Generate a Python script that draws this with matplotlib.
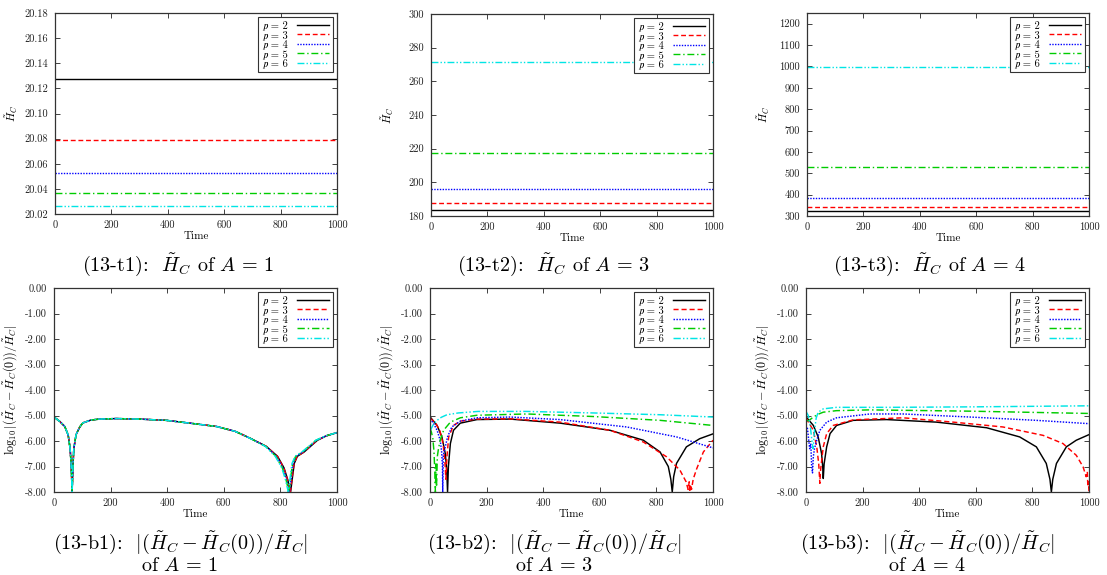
import matplotlib
matplotlib.use("Agg")
import matplotlib.pyplot as plt
from matplotlib.ticker import FixedLocator, FixedFormatter

plt.rcParams['font.family'] = 'serif'
plt.rcParams['font.serif'] = ['cmr10']
plt.rcParams['mathtext.fontset'] = 'cm'
plt.rcParams['axes.unicode_minus'] = False
plt.rcParams['axes.formatter.use_mathtext'] = True

# ---------------- data ----------------
p_labels = ["\U0001D45D = 2", "\U0001D45D = 3", "\U0001D45D = 4", "\U0001D45D = 5",
            "\U0001D45D = 6"]
time_span = [0, 1000]
x_ticks = [0, 200, 400, 600, 800, 1000]

# top row: H_C (constant in time)
t1_HC = [20.1275, 20.0789, 20.0529, 20.0370, 20.0261]
t2_HC = [183.8, 187.5, 196.3, 217.7, 271.2]
t3_HC = [325, 341, 386, 531, 999]

t1_yticks = [20.02, 20.04, 20.06, 20.08, 20.10, 20.12, 20.14, 20.16, 20.18]
t2_yticks = [180, 200, 220, 240, 260, 280, 300]
t3_yticks = [300, 400, 500, 600, 700, 800, 900, 1000, 1100, 1200]
b_yticks = [-8, -7, -6, -5, -4, -3, -2, -1, 0]

# bottom row: log10 relative error
b1_val = [-5.06, -5.23, -5.43, -5.76, -6.3, -7.0, -8.0, -7.0, -6.3, -5.75, -5.45, -5.29,
          -5.18, -5.14, -5.12, -5.14, -5.19, -5.30, -5.43, -5.62, -5.88, -6.21, -6.6,
          -7.06, -7.52, -8.0, -7.39, -6.88, -6.6, -6.43, -5.97, -5.8, -5.67]
b1_time_p2 = [0, 20, 38, 50, 57, 61, 64, 67, 70, 78, 91, 102, 130, 161, 220, 300, 397, 480,
              574, 640, 691, 750, 790, 813, 826, 836, 843, 849, 860, 884, 931, 962, 1000]
b1_time_p3 = [0, 20, 38, 50, 57, 61, 64, 67, 70, 78, 91, 102, 130, 161, 220, 300, 397, 480,
              574, 640, 691, 750, 789, 812, 825, 835, 842, 848, 859, 883, 930, 962, 1000]
b1_time_p4 = [0, 20, 38, 50, 57, 61, 64, 67, 70, 78, 91, 102, 130, 161, 220, 300, 397, 480,
              574, 640, 691, 749, 786, 809, 822, 832, 839, 845, 856, 880, 928, 961, 1000]
b1_time_p5 = [0, 20, 38, 50, 57, 61, 64, 67, 70, 78, 91, 102, 130, 161, 220, 300, 397, 480,
              574, 640, 691, 748, 784, 807, 820, 830, 837, 843, 854, 878, 926, 960, 1000]
b1_time_p6 = [0, 20, 38, 50, 57, 61, 64, 67, 70, 78, 91, 102, 130, 161, 220, 300, 397, 480,
              574, 640, 690, 747, 782, 805, 818, 828, 835, 841, 852, 876, 925, 960, 1000]

b2_p2_t = [0, 25, 42, 54, 59, 62, 65, 72, 83, 107, 166, 283, 460, 636, 754, 813, 842, 851,
           856, 861, 871, 906, 953, 1000]
b2_p2_v = [-5.05, -5.39, -5.84, -6.49, -7.1, -8.0, -7.0, -6.1, -5.58, -5.3, -5.16, -5.14,
           -5.3, -5.58, -5.97, -6.43, -7.0, -7.5, -8.0, -7.4, -6.88, -6.23, -5.91, -5.72]
b2_p3_t = [0, 20, 35, 46, 52, 56, 60, 66, 83, 107, 166, 283, 460, 636, 754, 836, 883, 905,
           912, 916, 918, 920, 924, 930, 942, 966, 1000]
b2_p3_v = [-5.1, -5.3, -5.6, -6.1, -6.7, -7.5, -6.6, -5.84, -5.39, -5.22, -5.14, -5.13,
           -5.26, -5.58, -6.04, -6.62, -7.14, -7.6, -7.9, -7.6, -8.0, -7.7, -7.9, -7.5,
           -7.1, -6.43, -5.97]
b2_p4_t = [0, 12, 25, 36, 41, 44, 45, 47, 50, 54, 62, 77, 107, 166, 283, 460, 695, 871, 1000]
b2_p4_v = [-5.13, -5.3, -5.58, -5.97, -6.4, -7.0, -8.0, -6.6, -6.4, -6.23, -5.84, -5.45,
           -5.22, -5.09, -5.06, -5.16, -5.45, -5.84, -6.27]
b2_p5_t = [0, 5, 10, 14, 17, 19, 21, 23, 26, 30, 36, 48, 72, 107, 166, 342, 577, 813, 1000]
b2_p5_v = [-5.5, -5.65, -5.9, -6.4, -7.2, -8.0, -6.9, -7.8, -6.6, -6.3, -5.97, -5.58,
           -5.26, -5.09, -4.99, -4.94, -5.04, -5.19, -5.39]
b2_p6_t = [0, 5, 12, 25, 40, 60, 100, 170, 340, 577, 813, 1000]
b2_p6_v = [-5.6, -5.5, -5.35, -5.19, -5.07, -4.97, -4.9, -4.84, -4.84, -4.9, -4.97, -5.06]

b3_p2_t = [0, 26, 43, 55, 59, 61, 64, 73, 85, 108, 167, 285, 461, 638, 755, 814, 849, 862,
           867, 872, 885, 920, 955, 1000]
b3_p2_v = [-5.05, -5.39, -5.84, -6.49, -7.0, -7.47, -6.9, -6.23, -5.71, -5.39, -5.19, -5.16,
           -5.26, -5.48, -5.84, -6.23, -6.88, -7.5, -8.0, -7.5, -6.88, -6.23, -5.97, -5.75]
b3_p3_t = [0, 26, 38, 45, 49, 51, 55, 61, 73, 96, 167, 343, 520, 696, 838, 908, 955, 979,
           990, 994, 996, 998, 1000]
b3_p3_v = [-5.1, -5.58, -6.23, -6.9, -7.66, -7.2, -6.8, -6.23, -5.71, -5.39, -5.17, -5.09,
           -5.26, -5.45, -5.78, -6.1, -6.56, -7.01, -7.4, -7.2, -7.79, -7.6, -8.0]
b3_p4_t = [0, 5, 9, 13, 17, 20, 23, 26, 30, 38, 49, 73, 108, 226, 343, 579, 814, 1000]
b3_p4_v = [-5.62, -5.5, -5.9, -6.3, -6.1, -7.0, -7.25, -6.6, -6.3, -5.97, -5.58, -5.26,
           -5.09, -4.94, -4.94, -5.06, -5.19, -5.32]
b3_p5_t = [0, 10, 26, 43, 61, 108, 226, 579, 1000]
b3_p5_v = [-5.2, -5.2, -5.06, -4.95, -4.87, -4.81, -4.78, -4.83, -4.92]
b3_p6_t = [0, 8, 15, 20, 25, 30, 36, 43, 61, 108, 300, 600, 1000]
b3_p6_v = [-4.84, -5.0, -5.4, -5.9, -6.3, -5.6, -5.1, -4.87, -4.74, -4.68, -4.68, -4.66, -4.62]

captions_top = [r"(13-t1):  $\tilde{H}_C$ of $A\,=\,1$",
                r"(13-t2):  $\tilde{H}_C$ of $A\,=\,3$",
                r"(13-t3):  $\tilde{H}_C$ of $A\,=\,4$"]
captions_bot = [(r"(13-b1):  $|(\tilde{H}_C - \tilde{H}_C(0))/\tilde{H}_C|$", r"of $A\,=\,1$"),
                (r"(13-b2):  $|(\tilde{H}_C - \tilde{H}_C(0))/\tilde{H}_C|$", r"of $A\,=\,3$"),
                (r"(13-b3):  $|(\tilde{H}_C - \tilde{H}_C(0))/\tilde{H}_C|$", r"of $A\,=\,4$")]

# ---------------- styles ----------------
colors = ["#000000", "#ff0000", "#0000ff", "#00cc00", "#00e5e5"]
styles = ["-", (0, (3.5, 2)), (0, (1, 1)), (0, (5, 2, 1, 2)), (0, (5, 1.5, 1, 1.5, 1, 1.5))]
legend_font = {'family': ['cmr10', 'STIXGeneral', 'DejaVu Serif'], 'size': 7.6}

W, H = 1107, 575
fig = plt.figure(figsize=(W / 100, H / 100), dpi=100)


def add_ax(x0, y0, x1, y1):
    return fig.add_axes([x0 / W, 1 - y1 / H, (x1 - x0) / W, (y1 - y0) / H])


def style_ax(ax, ylim, yticks, yfmt, ylabel, ylabel_size, x0, y0, x1, y1):
    ax.set_xlim(0, 1000)
    ax.set_ylim(*ylim)
    ax.xaxis.set_major_locator(FixedLocator(x_ticks))
    ax.xaxis.set_major_formatter(FixedFormatter([str(v) for v in x_ticks]))
    ax.yaxis.set_major_locator(FixedLocator(yticks))
    ax.yaxis.set_major_formatter(FixedFormatter([yfmt.format(v) for v in yticks]))
    ax.tick_params(direction='in', top=True, right=True, length=3.5, width=0.6,
                   labelsize=7.5, pad=5, colors='#222222')
    for s in ax.spines.values():
        s.set_linewidth(0.9)
        s.set_color('#333333')
    ax.set_xlabel("Time", fontsize=8)
    ax.xaxis.set_label_coords(0.5, -17.0 / (y1 - y0))
    ax.set_ylabel(ylabel, fontsize=ylabel_size)
    ax.yaxis.set_label_coords(-35.0 / (x1 - x0), 0.5)
    leg = ax.legend(loc='upper right', prop=legend_font, markerfirst=False, handlelength=3.0,
                    handletextpad=0.9, labelspacing=0.0, borderpad=0.35,
                    borderaxespad=0.4, fancybox=False, framealpha=1.0)
    leg.get_frame().set_edgecolor('#333333')
    leg.get_frame().set_linewidth(0.8)


top_boxes = [(55, 13, 337, 214), (431, 14, 713, 216), (807, 13, 1089, 216)]
bot_boxes = [(54, 288, 337, 492), (430, 288, 713, 492), (806, 288, 1089, 492)]

top_data = [t1_HC, t2_HC, t3_HC]
top_ylims = [(20.02, 20.18), (180, 300), (300, 1250)]
top_ticks = [t1_yticks, t2_yticks, t3_yticks]
top_fmts = ["{:.2f}", "{:.0f}", "{:.0f}"]

for k in range(3):
    box = top_boxes[k]
    ax = add_ax(*box)
    for i in range(5):
        ax.plot(time_span, [top_data[k][i]] * 2, color=colors[i], ls=styles[i],
                lw=1.0, label=p_labels[i])
    style_ax(ax, top_ylims[k], top_ticks[k], top_fmts[k], r"$\tilde{H}_C$", 8, *box)

bot_series = [
    [(b1_time_p2, b1_val), (b1_time_p3, b1_val), (b1_time_p4, b1_val),
     (b1_time_p5, b1_val), (b1_time_p6, b1_val)],
    [(b2_p2_t, b2_p2_v), (b2_p3_t, b2_p3_v), (b2_p4_t, b2_p4_v),
     (b2_p5_t, b2_p5_v), (b2_p6_t, b2_p6_v)],
    [(b3_p2_t, b3_p2_v), (b3_p3_t, b3_p3_v), (b3_p4_t, b3_p4_v),
     (b3_p5_t, b3_p5_v), (b3_p6_t, b3_p6_v)],
]
b_ylabel = r"$\log_{10}|(\tilde{H}_C-\tilde{H}_C(0))/\tilde{H}_C|$"

for k in range(3):
    box = bot_boxes[k]
    ax = add_ax(*box)
    for i in range(5):
        t, v = bot_series[k][i]
        ax.plot(t, v, color=colors[i], ls=styles[i], lw=1.05, label=p_labels[i])
    style_ax(ax, (-8, 0), b_yticks, "{:.2f}", b_ylabel, 8.7, *box)

top_cap_x = [178, 553, 930]
bot_cap_x = [180, 554, 927]
for k in range(3):
    fig.text(top_cap_x[k] / W, 1 - 265 / H, captions_top[k], ha='center', va='center',
             fontsize=14.5)
    fig.text(bot_cap_x[k] / W, 1 - 543 / H, captions_bot[k][0], ha='center', va='center',
             fontsize=14.5)
    fig.text(bot_cap_x[k] / W, 1 - 566 / H, captions_bot[k][1], ha='center', va='center',
             fontsize=14.5)

fig.savefig("out.png", dpi=100)
